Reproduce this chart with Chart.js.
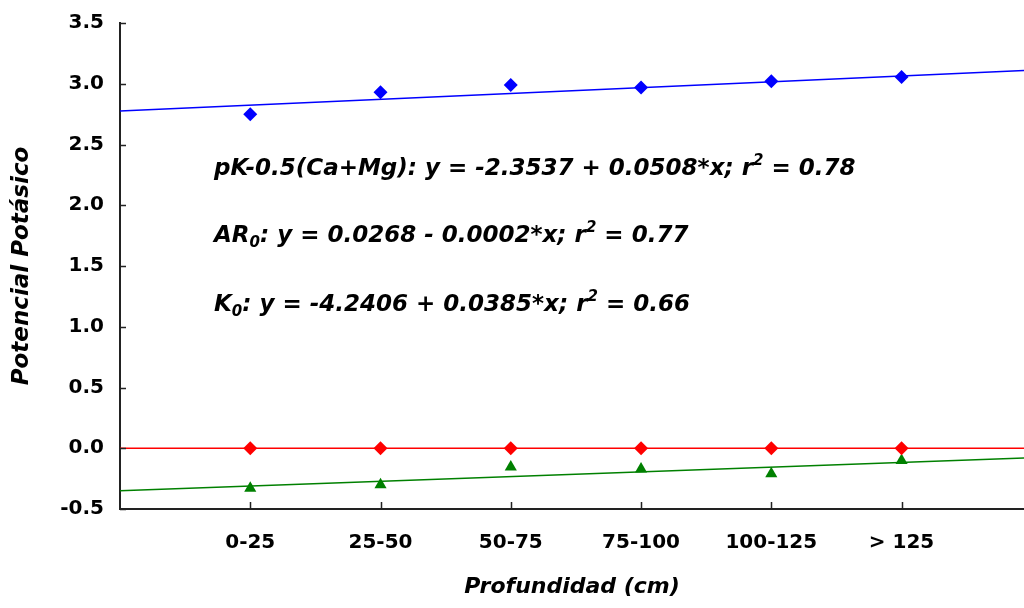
<!DOCTYPE html>
<html>
<head>
<meta charset="utf-8">
<script src="https://cdn.jsdelivr.net/npm/chart.js@4/dist/chart.umd.min.js"></script>
<style>
  html, body { margin: 0; padding: 0; background: #fff; }
  #wrap { width: 1024px; height: 608px; }
</style>
</head>
<body>
<div id="wrap"><canvas id="potasio-chart" width="1024" height="608"></canvas></div>
<script>
const FONT = '"DejaVu Sans", Arial, sans-serif';

const categories = ['0-25', '25-50', '50-75', '75-100', '100-125', '> 125'];
const pkValues = [2.75, 2.93, 2.99, 2.97, 3.02, 3.055];
const arValues = [0, 0, 0, 0, 0, 0];
const koValues = [-0.33, -0.30, -0.155, -0.17, -0.21, -0.10];

// fitted lines, read at the left and right edges of the plot
const trendX = [0, 6.94];
const pkTrend = [2.775, 3.11];
const arTrend = [0, 0];
const koTrend = [-0.35, -0.08];

const yTicks = [-0.5, 0, 0.5, 1, 1.5, 2, 2.5, 3, 3.5];

function toPoints(vals) {
    return vals.map((v, i) => ({ x: i + 1, y: v }));
}
function toLine(vals) {
    return vals.map((v, i) => ({ x: trendX[i], y: v }));
}

// equations written over the plot; [text, 'sub'|'sup'|undefined]
const equations = [
    [['pK-0.5(Ca+Mg): y = -2.3537 + 0.0508*x; r'], ['2', 'sup'], [' = 0.78']],
    [['AR'], ['0', 'sub'], [': y = 0.0268 - 0.0002*x; r'], ['2', 'sup'], [' = 0.77']],
    [['K'], ['0', 'sub'], [': y = -4.2406 + 0.0385*x; r'], ['2', 'sup'], [' = 0.66']]
];
const eqBaselines = [175, 242, 311];

const equationPlugin = {
    id: 'equations',
    afterDatasetsDraw(chart) {
        const c = chart.ctx;
        c.save();
        c.fillStyle = '#000';
        c.textBaseline = 'alphabetic';
        equations.forEach((parts, li) => {
            let x = 214;
            const y = eqBaselines[li];
            parts.forEach(([txt, mode]) => {
                let size = 23, dy = 0;
                if (mode === 'sub') { size = 15; dy = 5; }
                if (mode === 'sup') { size = 15; dy = -10; }
                c.font = 'italic bold ' + size + 'px ' + FONT;
                c.fillText(txt, x, y + dy);
                x += c.measureText(txt).width;
            });
        });
        c.restore();
    }
};

// short tick marks pointing into the plot
const innerTicks = {
    id: 'innerTicks',
    afterDraw(chart) {
        const c = chart.ctx;
        const xs = chart.scales.x, ys = chart.scales.y;
        const area = chart.chartArea;
        c.save();
        c.strokeStyle = '#222';
        c.lineWidth = 1.5;
        c.beginPath();
        ys.ticks.forEach(t => {
            const py = Math.round(ys.getPixelForValue(t.value)) + 0.5;
            c.moveTo(area.left, py);
            c.lineTo(area.left + 6, py);
        });
        xs.ticks.forEach(t => {
            const px = Math.round(xs.getPixelForValue(t.value)) + 0.5;
            c.moveTo(px, area.bottom);
            c.lineTo(px, area.bottom - 7);
        });
        c.stroke();
        c.restore();
    }
};

const ctx = document.getElementById('potasio-chart').getContext('2d');

const chart = new Chart(ctx, {
    type: 'scatter',
    data: {
        datasets: [
            { data: toLine(pkTrend), showLine: true, borderColor: '#0000ff', borderWidth: 1.5, pointRadius: 0 },
            { data: toLine(arTrend), showLine: true, borderColor: '#ff0000', borderWidth: 1.5, pointRadius: 0 },
            { data: toLine(koTrend), showLine: true, borderColor: '#008000', borderWidth: 1.5, pointRadius: 0 },
            { data: toPoints(pkValues), pointStyle: 'rectRot', pointRadius: 7, backgroundColor: '#0000ff', borderColor: '#0000ff', borderWidth: 0 },
            { data: toPoints(arValues), pointStyle: 'rectRot', pointRadius: 7, backgroundColor: '#ff0000', borderColor: '#ff0000', borderWidth: 0 },
            { data: toPoints(koValues), pointStyle: 'triangle', pointRadius: 7, backgroundColor: '#008000', borderColor: '#008000', borderWidth: 0 }
        ]
    },
    options: {
        responsive: false,
        animation: false,
        layout: { autoPadding: false, padding: { top: 23, right: 0, bottom: 0, left: 0 } },
        plugins: {
            legend: { display: false },
            tooltip: { enabled: false }
        },
        scales: {
            x: {
                type: 'linear',
                min: 0,
                max: 6.94,
                afterBuildTicks: s => { s.ticks = categories.map((c, i) => ({ value: i + 1 })); },
                afterFit: s => { s.height = 99; s.paddingLeft = 0; s.paddingRight = 0; },
                ticks: {
                    autoSkip: false,
                    maxRotation: 0,
                    padding: 22,
                    color: '#000',
                    font: { family: FONT, size: 20, weight: 'bold' },
                    callback: v => categories[v - 1]
                },
                grid: { drawOnChartArea: false, drawTicks: false },
                border: { display: true, color: '#222', width: 2 },
                title: {
                    display: true,
                    text: 'Profundidad (cm)',
                    color: '#000',
                    font: { family: FONT, size: 22, weight: 'bold', style: 'italic' },
                    padding: { top: 16, bottom: 8 }
                }
            },
            y: {
                min: -0.5,
                max: 3.5,
                afterBuildTicks: s => { s.ticks = yTicks.map(v => ({ value: v })); },
                afterFit: s => { s.width = 120; s.paddingTop = 0; s.paddingBottom = 0; },
                ticks: {
                    padding: 16,
                    color: '#000',
                    font: { family: FONT, size: 20, weight: 'bold' },
                    callback: v => v.toFixed(1)
                },
                grid: { drawOnChartArea: false, drawTicks: false },
                border: { display: true, color: '#222', width: 2 },
                title: {
                    display: true,
                    text: 'Potencial Potásico',
                    color: '#000',
                    font: { family: FONT, size: 23, weight: 'bold', style: 'italic' },
                    padding: { top: 8, bottom: 0 }
                }
            }
        }
    },
    plugins: [equationPlugin, innerTicks]
});
</script>
</body>
</html>
